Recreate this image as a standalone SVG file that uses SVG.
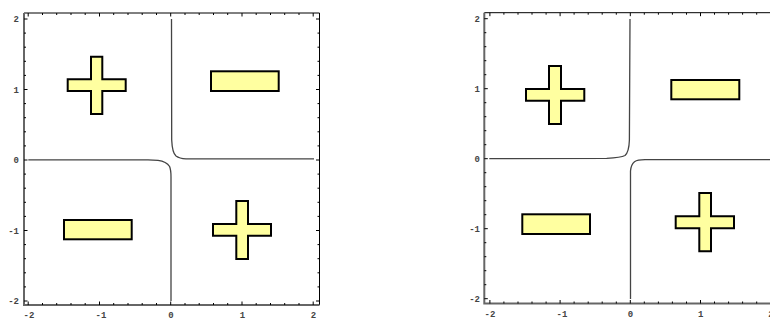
<svg xmlns="http://www.w3.org/2000/svg" width="770" height="320" viewBox="0 0 770 320">
<style>
.bg{fill:#ffffff}
.axg{stroke:#666666;stroke-width:2;fill:none}
.axk{stroke:#000000;stroke-width:1;fill:none}
.tick{stroke:#000000;stroke-width:1;fill:none}
.curve{stroke:#444444;stroke-width:1.3;fill:none;stroke-linejoin:round}
.shape{fill:#ffffa0;stroke:#000000;stroke-width:2;stroke-linejoin:miter}
.lbl{font-family:"Liberation Mono",monospace;font-size:9px;font-weight:bold;fill:#444444}
.ym{text-anchor:end}
.xm{text-anchor:middle}
</style>
<rect class="bg" x="0" y="0" width="770" height="320"/>

<g id="plot-left">
  <g id="frame-left">
    <path class="axk" d="M24,13 H319.5 V305"/>
    <path class="axg" d="M24,13 V305 H319.5"/>
    <path class="tick" d="M28.2,305 v-3.5 M42.5,305 v-2 M56.7,305 v-2 M71,305 v-2 M85.2,305 v-2 M99.5,305 v-3.5 M113.7,305 v-2 M128,305 v-2 M142.2,305 v-2 M156.5,305 v-2 M170.7,305 v-3.5 M185,305 v-2 M199.2,305 v-2 M213.5,305 v-2 M227.7,305 v-2 M242,305 v-3.5 M256.2,305 v-2 M270.5,305 v-2 M284.7,305 v-2 M299,305 v-2 M313.2,305 v-3.5"/>
    <path class="tick" d="M28.2,13 v3.5 M42.5,13 v2 M56.7,13 v2 M71,13 v2 M85.2,13 v2 M99.5,13 v3.5 M113.7,13 v2 M128,13 v2 M142.2,13 v2 M156.5,13 v2 M170.7,13 v3.5 M185,13 v2 M199.2,13 v2 M213.5,13 v2 M227.7,13 v2 M242,13 v3.5 M256.2,13 v2 M270.5,13 v2 M284.7,13 v2 M299,13 v2 M313.2,13 v3.5"/>
    <path class="tick" d="M24,19 h3.5 M24,33.1 h2 M24,47.2 h2 M24,61.3 h2 M24,75.4 h2 M24,89.5 h3.5 M24,103.6 h2 M24,117.7 h2 M24,131.8 h2 M24,145.9 h2 M24,160 h3.5 M24,174.1 h2 M24,188.2 h2 M24,202.3 h2 M24,216.4 h2 M24,230.5 h3.5 M24,244.6 h2 M24,258.7 h2 M24,272.8 h2 M24,286.9 h2 M24,301 h3.5"/>
    <path class="tick" d="M319.5,19 h-3.5 M319.5,33.1 h-2 M319.5,47.2 h-2 M319.5,61.3 h-2 M319.5,75.4 h-2 M319.5,89.5 h-3.5 M319.5,103.6 h-2 M319.5,117.7 h-2 M319.5,131.8 h-2 M319.5,145.9 h-2 M319.5,160 h-3.5 M319.5,174.1 h-2 M319.5,188.2 h-2 M319.5,202.3 h-2 M319.5,216.4 h-2 M319.5,230.5 h-3.5 M319.5,244.6 h-2 M319.5,258.7 h-2 M319.5,272.8 h-2 M319.5,286.9 h-2 M319.5,301 h-3.5"/>
  </g>
  <g id="labels-left">
    <text class="lbl ym" x="19" y="22">2</text>
    <text class="lbl ym" x="19" y="92.5">1</text>
    <text class="lbl ym" x="19" y="163">0</text>
    <text class="lbl ym" x="19" y="233.5">-1</text>
    <text class="lbl ym" x="19" y="304">-2</text>
    <text class="lbl xm" x="29" y="317.5">-2</text>
    <text class="lbl xm" x="101" y="317.5">-1</text>
    <text class="lbl xm" x="171" y="317.5">0</text>
    <text class="lbl xm" x="242.5" y="317.5">1</text>
    <text class="lbl xm" x="313.5" y="317.5">2</text>
  </g>
  <g id="curves-left">
    <path class="curve" d="M171.5,19 L171.7,140 Q172.3,153 176,156 Q179.5,158.6 186,158.8 L314,158.9"/>
    <path class="curve" d="M28.3,159.8 L148,159.8 L158,160.4 Q166.5,161.5 169.6,166.5 Q171,170 171,177 L171,301"/>
  </g>
  <g id="plus-tl-left">
    <polygon class="shape" points="91,56.7 102.3,56.7 102.3,79.3 125.7,79.3 125.7,91 102.3,91 102.3,114 91,114 91,91 67.7,91 67.7,79.3 91,79.3"/>
  </g>
  <g id="minus-tr-left">
    <rect class="shape" x="211" y="71.3" width="67.7" height="19.7"/>
  </g>
  <g id="minus-bl-left">
    <rect class="shape" x="64" y="220" width="67.7" height="19.3"/>
  </g>
  <g id="plus-br-left">
    <polygon class="shape" points="236.3,201 248,201 248,224 271,224 271,235.7 248,235.7 248,259 236.3,259 236.3,235.7 213,235.7 213,224 236.3,224"/>
  </g>
</g>

<g id="plot-right">
  <g id="frame-right">
    <path class="axk" d="M484.3,12.7 H776"/>
    <path class="axg" d="M484.3,12.7 V303.5 H776"/>
    <path class="tick" d="M489.9,303.5 v-3.5 M503.9,303.5 v-2 M518,303.5 v-2 M532,303.5 v-2 M546.1,303.5 v-2 M560.1,303.5 v-3.5 M574.1,303.5 v-2 M588.2,303.5 v-2 M602.2,303.5 v-2 M616.3,303.5 v-2 M630.3,303.5 v-3.5 M644.3,303.5 v-2 M658.4,303.5 v-2 M672.4,303.5 v-2 M686.5,303.5 v-2 M700.5,303.5 v-3.5 M714.5,303.5 v-2 M728.6,303.5 v-2 M742.6,303.5 v-2 M756.7,303.5 v-2"/>
    <path class="tick" d="M489.9,12.7 v3.5 M503.9,12.7 v2 M518,12.7 v2 M532,12.7 v2 M546.1,12.7 v2 M560.1,12.7 v3.5 M574.1,12.7 v2 M588.2,12.7 v2 M602.2,12.7 v2 M616.3,12.7 v2 M630.3,12.7 v3.5 M644.3,12.7 v2 M658.4,12.7 v2 M672.4,12.7 v2 M686.5,12.7 v2 M700.5,12.7 v3.5 M714.5,12.7 v2 M728.6,12.7 v2 M742.6,12.7 v2 M756.7,12.7 v2"/>
    <path class="tick" d="M484.3,18.7 h3.5 M484.3,32.7 h2 M484.3,46.7 h2 M484.3,60.7 h2 M484.3,74.7 h2 M484.3,88.7 h3.5 M484.3,102.7 h2 M484.3,116.7 h2 M484.3,130.7 h2 M484.3,144.7 h2 M484.3,158.7 h3.5 M484.3,172.7 h2 M484.3,186.7 h2 M484.3,200.7 h2 M484.3,214.7 h2 M484.3,228.7 h3.5 M484.3,242.7 h2 M484.3,256.7 h2 M484.3,270.7 h2 M484.3,284.7 h2 M484.3,298.7 h3.5"/>
  </g>
  <g id="labels-right">
    <text class="lbl ym" x="480" y="21.7">2</text>
    <text class="lbl ym" x="480" y="91.7">1</text>
    <text class="lbl ym" x="480" y="161.7">0</text>
    <text class="lbl ym" x="480" y="231.7">-1</text>
    <text class="lbl ym" x="480" y="301.7">-2</text>
    <text class="lbl xm" x="490" y="316.5">-2</text>
    <text class="lbl xm" x="562" y="316.5">-1</text>
    <text class="lbl xm" x="630.5" y="316.5">0</text>
    <text class="lbl xm" x="700.7" y="316.5">1</text>
    <text class="lbl xm" x="771" y="316.5">2</text>
  </g>
  <g id="curves-right">
    <path class="curve" d="M489.3,158.7 L606.7,158.4 Q621,157.6 625,155.5 Q629,152 629.4,140 L630,19"/>
    <path class="curve" d="M630.5,299 L630.5,171 Q631,164.5 634.5,161.7 Q637.5,159.8 645,159.7 L770,159.7"/>
  </g>
  <g id="plus-tl-right">
    <polygon class="shape" points="549,66 561,66 561,89 584.3,89 584.3,100.7 561,100.7 561,124 549,124 549,100.7 526,100.7 526,89 549,89"/>
  </g>
  <g id="minus-tr-right">
    <rect class="shape" x="671.3" y="80" width="68" height="19.3"/>
  </g>
  <g id="minus-bl-right">
    <rect class="shape" x="522.3" y="214.3" width="67.7" height="19.7"/>
  </g>
  <g id="plus-br-right">
    <polygon class="shape" points="699.3,193 711,193 711,216.3 734,216.3 734,228.3 711,228.3 711,251.3 699.3,251.3 699.3,228.3 675.7,228.3 675.7,216.3 699.3,216.3"/>
  </g>
</g>
</svg>
